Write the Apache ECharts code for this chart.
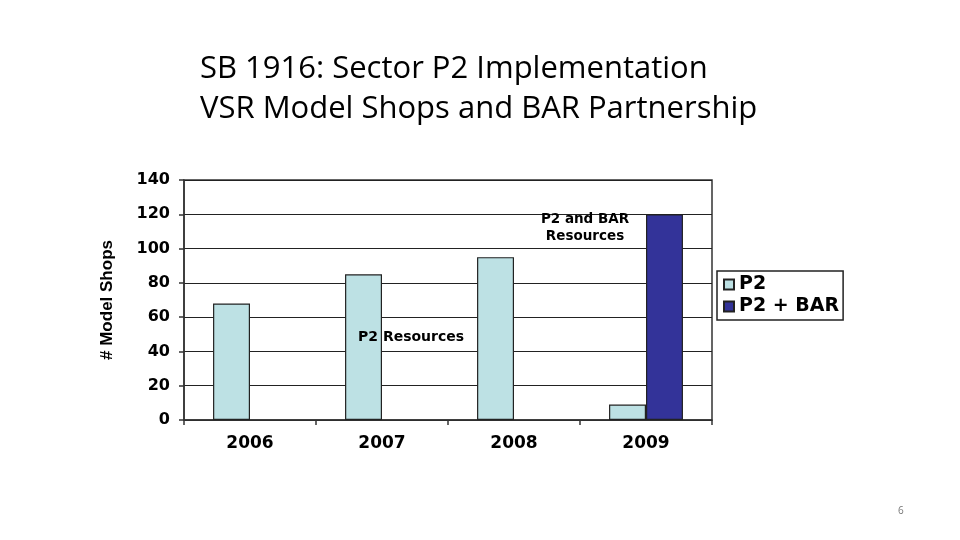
<!DOCTYPE html>
<html><head><meta charset="utf-8">
<script src="https://cdn.jsdelivr.net/npm/echarts@6/dist/echarts.min.js"></script>
<style>html,body{margin:0;padding:0;background:#fff}#c{width:960px;height:540px}</style>
</head><body><div id="c"></div>
<script>
const categories = ['2006', '2007', '2008', '2009'];
const p2Values = [68, 85, 95, 9];
const p2BarValues = [null, null, null, 120];
const seriesNames = ['P2', 'P2 + BAR'];
const titleLines = ['SB 1916: Sector P2 Implementation', 'VSR Model Shops and BAR Partnership'];
const yAxisName = '# Model Shops';
const annotations = ['P2 Resources', 'P2 and BAR\nResources'];

const chart = echarts.init(document.getElementById('c'));
const bold = {fontFamily: '"DejaVu Sans", sans-serif', fontWeight: 'bold', color: '#000'};
chart.setOption({
  animation: false,
  backgroundColor: '#fff',
  grid: {left: 184, right: 248, top: 180, bottom: 120, show: true, borderColor: '#333', borderWidth: 1.5},
  xAxis: {
    type: 'category', data: categories,
    axisLine: {lineStyle: {color: '#333', width: 1.5}},
    axisTick: {show: true, length: 5, lineStyle: {color: '#333', width: 1.5}},
    axisLabel: Object.assign({fontSize: 17, margin: 15}, bold)
  },
  yAxis: {
    type: 'value', min: 0, max: 140, interval: 20,
    name: yAxisName, nameLocation: 'middle', nameGap: 68, nameRotate: 90,
    nameTextStyle: {fontFamily: '"Liberation Sans", Arial, sans-serif', fontWeight: 'bold', color: '#000', fontSize: 17},
    axisLine: {show: true, lineStyle: {color: '#333', width: 1.5}},
    axisTick: {show: true, length: 5, lineStyle: {color: '#333', width: 1.5}},
    axisLabel: Object.assign({fontSize: 16, margin: 14}, bold),
    splitLine: {lineStyle: {color: '#222', width: 1.2}}
  },
  legend: {
    orient: 'vertical', left: 717, top: 271,
    data: seriesNames,
    borderColor: '#222', borderWidth: 1.5, padding: [4, 4, 4, 6],
    itemWidth: 10, itemHeight: 10, itemGap: 3, icon: 'rect',
    textStyle: Object.assign({fontSize: 19}, bold)
  },
  series: [
    {name: seriesNames[0], type: 'bar', data: p2Values, barGap: '0%', barCategoryGap: '44%',
     itemStyle: {color: '#BDE1E4', borderColor: '#222', borderWidth: 1.2}},
    {name: seriesNames[1], type: 'bar', data: p2BarValues, barGap: '0%', barCategoryGap: '44%',
     itemStyle: {color: '#333399', borderColor: '#222', borderWidth: 1.2}}
  ],
  graphic: [
    {type: 'text', left: 200, top: 54, style: {text: titleLines[0], font: '31px "Open Sans", sans-serif', fill: '#000'}},
    {type: 'text', left: 200, top: 94, style: {text: titleLines[1], font: '31px "Open Sans", sans-serif', fill: '#000'}},
    {type: 'text', z: 100, x: 358, y: 337, style: {text: annotations[0], font: 'bold 14px "DejaVu Sans", sans-serif', fill: '#000', verticalAlign: 'middle'}},
    {type: 'text', z: 100, x: 585, y: 228, style: {text: annotations[1], font: 'bold 13.5px "DejaVu Sans", sans-serif', fill: '#000', align: 'center', verticalAlign: 'middle', lineHeight: 17}},
    {type: 'text', left: 898, top: 506, style: {text: '6', font: '10px "Open Sans", sans-serif', fill: '#777'}}
  ]
});
</script></body></html>
